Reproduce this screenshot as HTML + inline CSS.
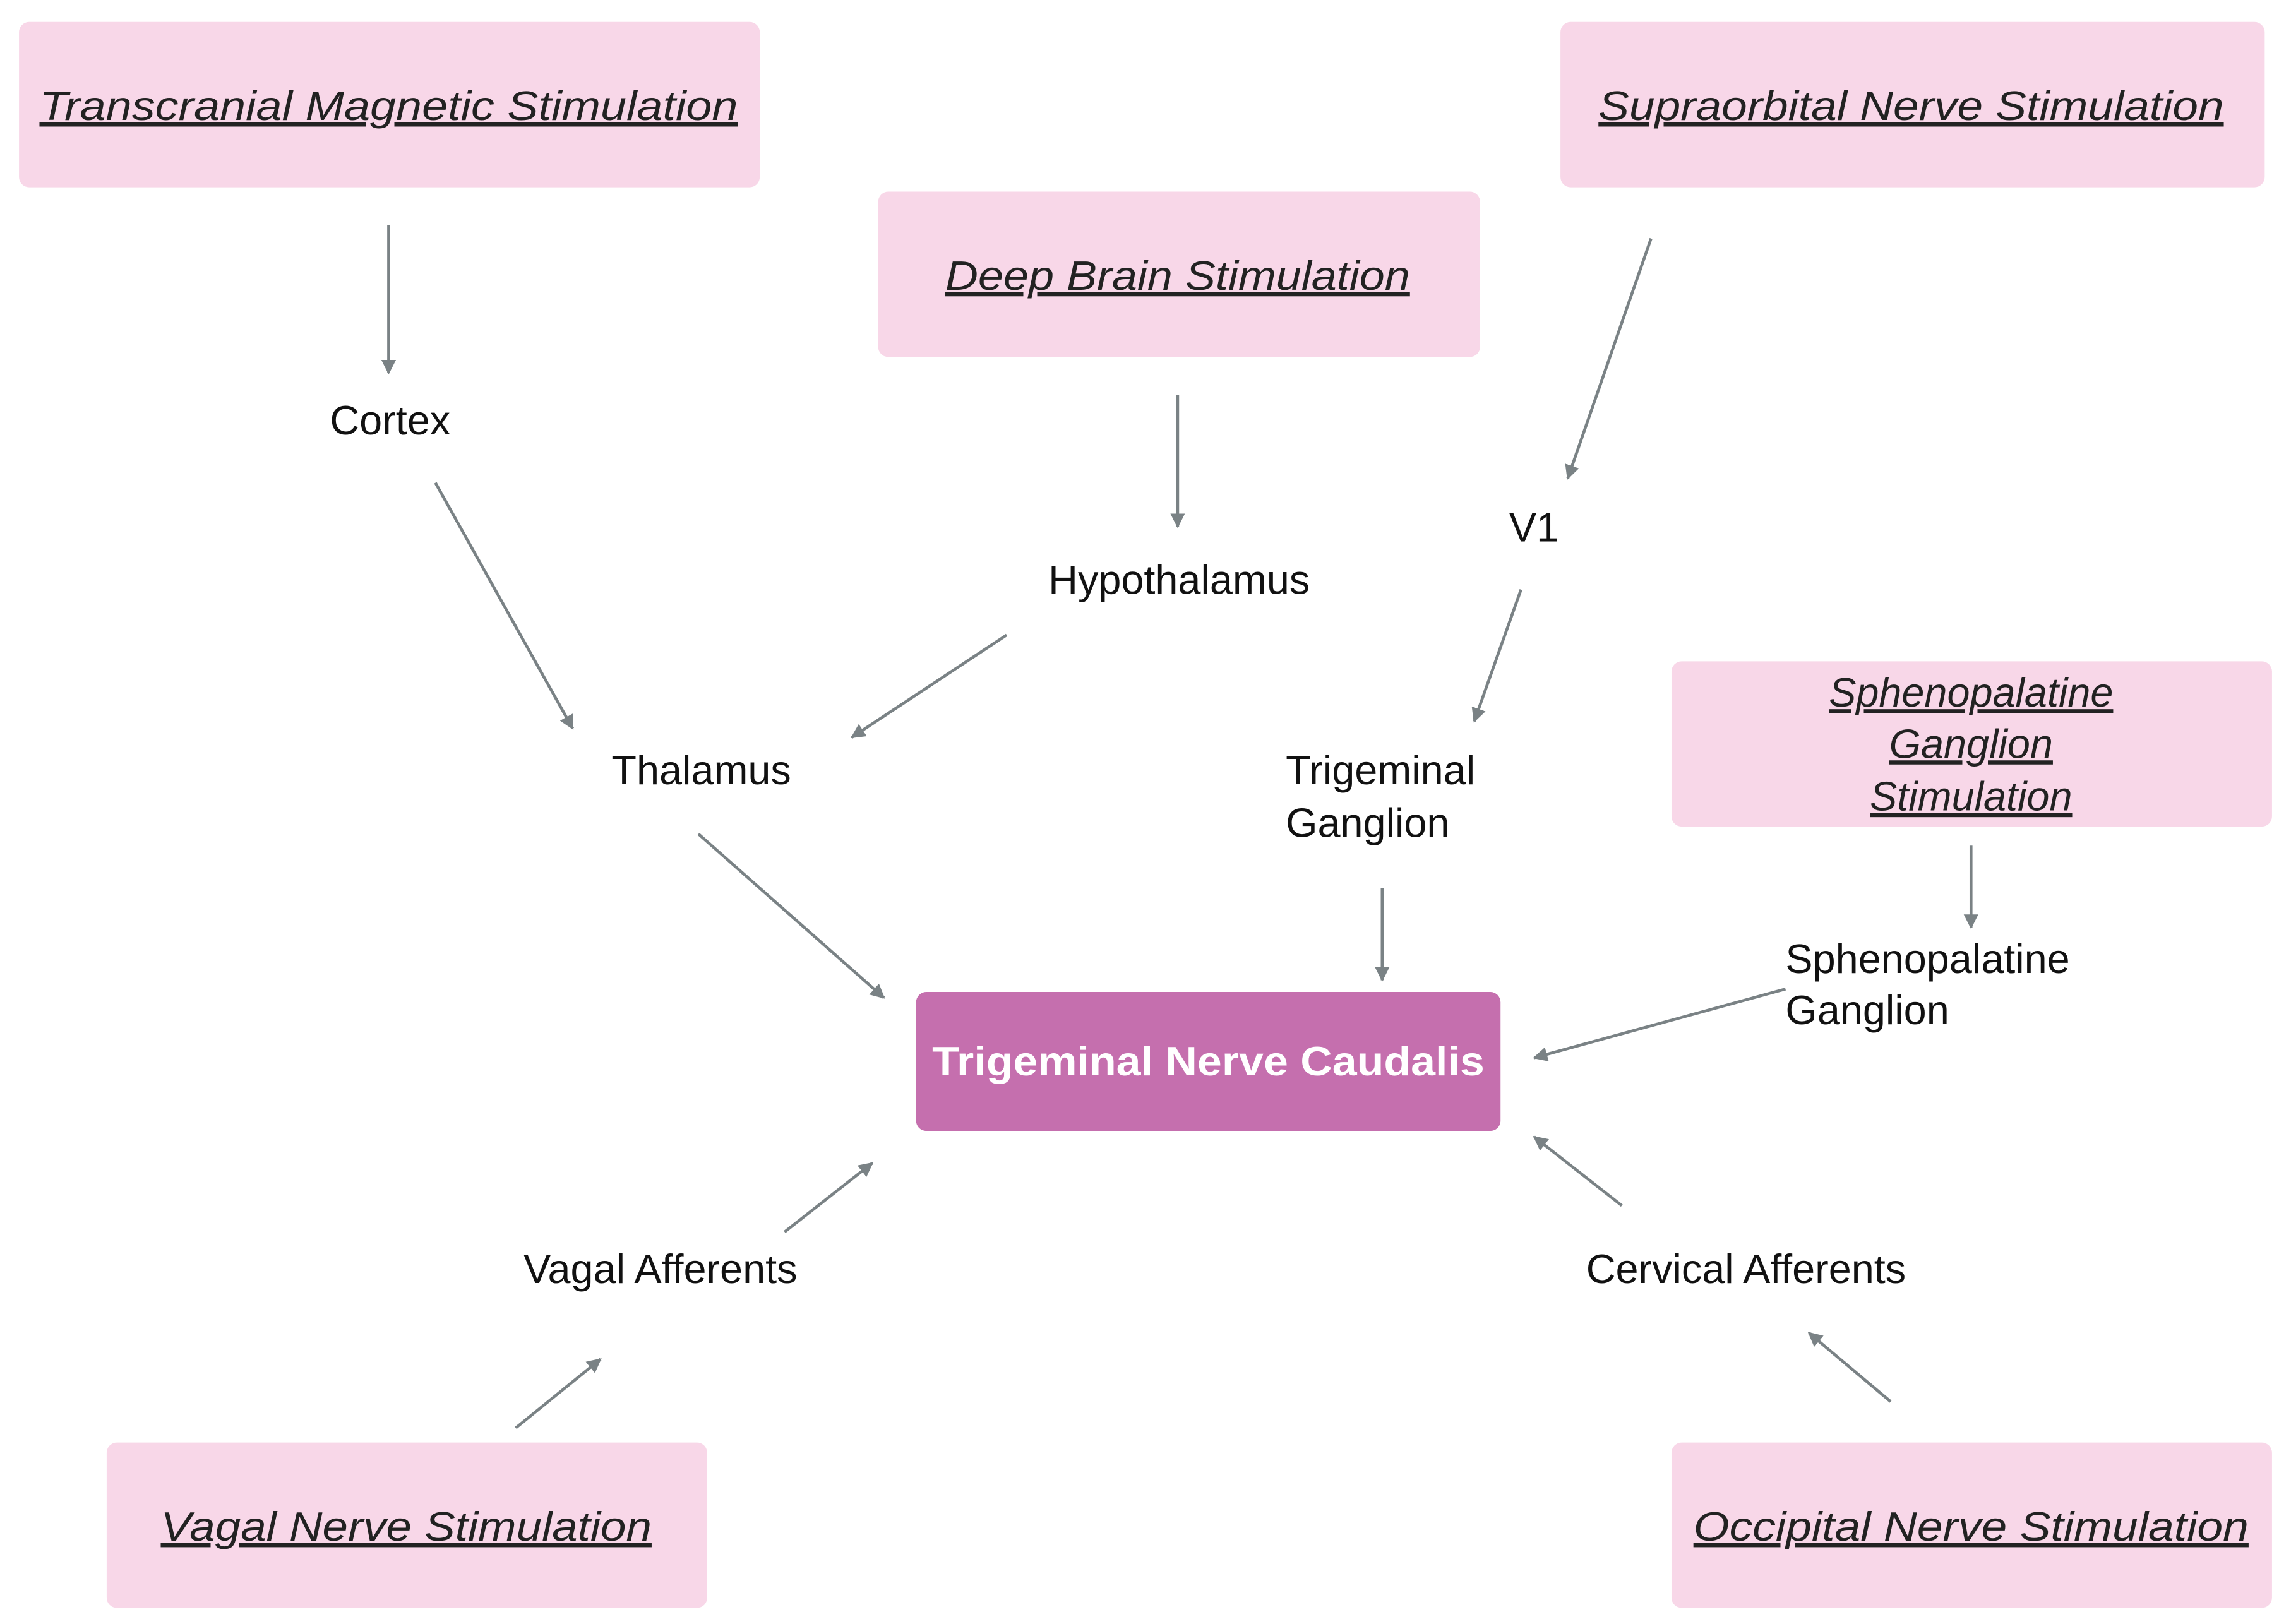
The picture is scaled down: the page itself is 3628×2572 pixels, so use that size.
<!DOCTYPE html>
<html><head><meta charset="utf-8"><style>
html,body{margin:0;padding:0;background:#fff;}
svg{display:block;}
text{font-family:"Liberation Sans",sans-serif;font-size:28px;fill:#111;}
.b{font-style:italic;text-decoration:underline;fill:#222;}
</style></head><body>
<svg width="3628" height="2572" viewBox="0 0 1568 1110" preserveAspectRatio="none" xmlns="http://www.w3.org/2000/svg">
<defs><marker id="a" viewBox="0 0 10 10" refX="9" refY="5" markerWidth="5" markerHeight="5" orient="auto"><path d="M0,0L10,5L0,10z" fill="#7a8285"/></marker></defs>
<g fill="#f8d7e8">
<rect x="13" y="15" width="507" height="113" rx="7"/>
<rect x="601" y="131" width="412" height="113" rx="7"/>
<rect x="1068" y="15" width="482" height="113" rx="7"/>
<rect x="1144" y="452" width="411" height="113" rx="7"/>
<rect x="73" y="986" width="411" height="113" rx="7"/>
<rect x="1144" y="986" width="411" height="113" rx="7"/>
</g>
<rect x="627" y="678" width="400" height="95" rx="7" fill="#c56fae"/>
<g text-anchor="middle">
<text class="b" x="266" y="82" textLength="478" lengthAdjust="spacingAndGlyphs">Transcranial Magnetic Stimulation</text>
<text class="b" x="806" y="198" textLength="318" lengthAdjust="spacingAndGlyphs">Deep Brain Stimulation</text>
<text class="b" x="1308" y="82" textLength="428" lengthAdjust="spacingAndGlyphs">Supraorbital Nerve Stimulation</text>
<text class="b" x="1349" y="483">Sphenopalatine</text>
<text class="b" x="1349" y="518">Ganglion</text>
<text class="b" x="1349" y="554">Stimulation</text>
<text class="b" x="278" y="1053" textLength="336" lengthAdjust="spacingAndGlyphs">Vagal Nerve Stimulation</text>
<text class="b" x="1349" y="1053" textLength="380" lengthAdjust="spacingAndGlyphs">Occipital Nerve Stimulation</text>
<text x="827" y="735" style="font-weight:bold;fill:#fff" textLength="378" lengthAdjust="spacingAndGlyphs">Trigeminal Nerve Caudalis</text>
<text x="267" y="297">Cortex</text>
<text x="807" y="406">Hypothalamus</text>
<text x="1050" y="370">V1</text>
<text x="480" y="536">Thalamus</text>
<text x="452" y="877">Vagal Afferents</text>
<text x="1195" y="877">Cervical Afferents</text>
</g>
<text x="880" y="536">Trigeminal</text>
<text x="880" y="572">Ganglion</text>
<text x="1222" y="665">Sphenopalatine</text>
<text x="1222" y="700">Ganglion</text>
<g stroke="#7a8285" stroke-width="2" marker-end="url(#a)">
<line x1="266" y1="154" x2="266" y2="255"/>
<line x1="806" y1="270" x2="806" y2="360"/>
<line x1="1130" y1="163" x2="1073" y2="327"/>
<line x1="298" y1="330" x2="392" y2="498"/>
<line x1="689" y1="434" x2="583" y2="504"/>
<line x1="1041" y1="403" x2="1009" y2="493"/>
<line x1="478" y1="570" x2="605" y2="682"/>
<line x1="946" y1="607" x2="946" y2="670"/>
<line x1="1349" y1="578" x2="1349" y2="634"/>
<line x1="1222" y1="676" x2="1050" y2="723"/>
<line x1="537" y1="842" x2="597" y2="795"/>
<line x1="1110" y1="824" x2="1050" y2="777"/>
<line x1="353" y1="976" x2="411" y2="929"/>
<line x1="1294" y1="958" x2="1238" y2="911"/>
</g>
</svg>
</body></html>
